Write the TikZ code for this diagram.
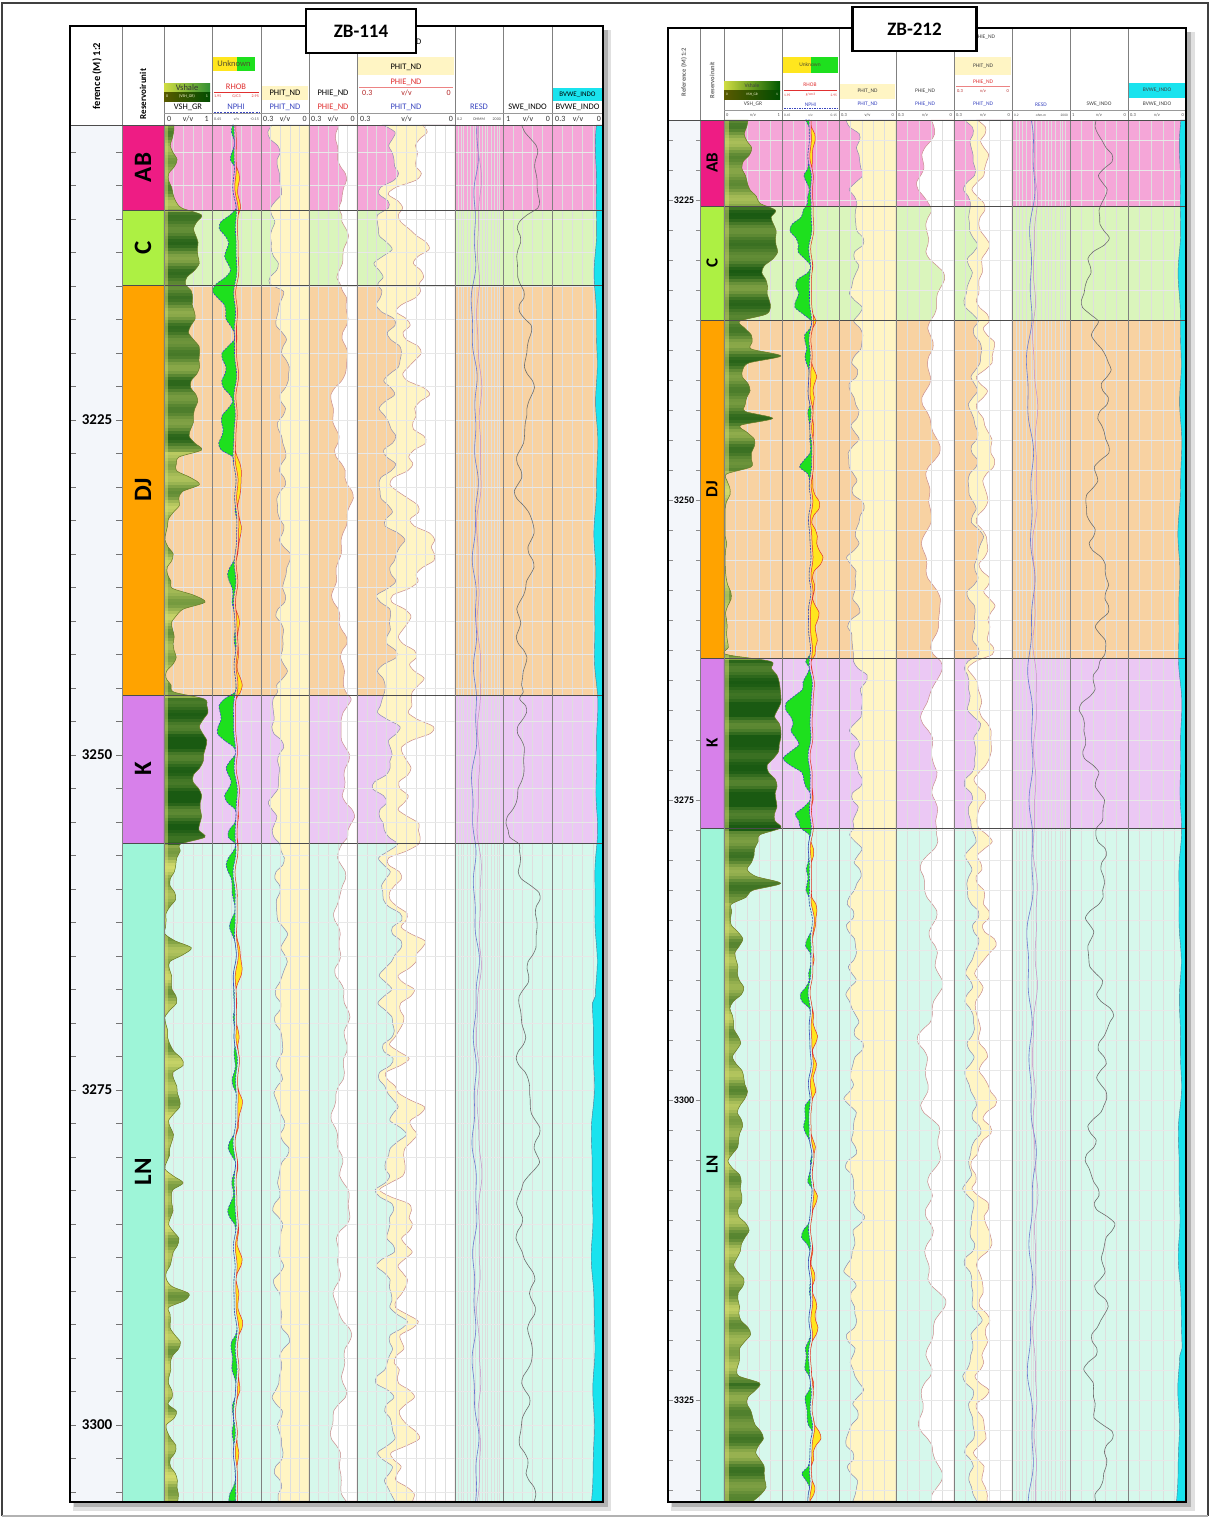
\documentclass[tikz,border=0pt]{standalone}
\usepackage{fontspec}
\setmainfont{Carlito}
\definecolor{abS}{HTML}{EE1C84}
\definecolor{abP}{HTML}{F5A6D8}
\definecolor{cS}{HTML}{ADF043}
\definecolor{cP}{HTML}{DAF5BC}
\definecolor{djS}{HTML}{FFA300}
\definecolor{djP}{HTML}{F8D2A2}
\definecolor{kS}{HTML}{D780EA}
\definecolor{kP}{HTML}{EBC8F4}
\definecolor{lnS}{HTML}{9EF5D8}
\definecolor{lnP}{HTML}{D6F8EC}
\definecolor{cream}{HTML}{FFF5C4}
\definecolor{dbg}{HTML}{F3F6FA}
\definecolor{cyn}{HTML}{19E3EE}
\definecolor{grn}{HTML}{1EE01E}
\definecolor{ylw}{HTML}{FFE61E}
\definecolor{vshL}{HTML}{BCCD5E}
\definecolor{vshR}{HTML}{1D5A12}
\definecolor{vshD}{HTML}{1A5A12}
\definecolor{vshLt}{HTML}{D4DC6E}
\definecolor{vshline}{HTML}{6B7B2A}
\definecolor{phic}{HTML}{8C8CB4}
\definecolor{phiec}{HTML}{C88C8C}
\definecolor{rhoc}{HTML}{E03030}
\definecolor{nphc}{HTML}{3A46C0}
\definecolor{resc}{HTML}{6A7AD0}
\definecolor{swc}{HTML}{6E6E6E}
\newcommand\logfill[5]{\path[#1] (#2,#3) -- plot[smooth,variable=\t,domain=#3:#4,samples=200] ({#5},\t) -- (#2,#4) -- cycle;}
\newcommand\logband[5]{\path[#1] plot[smooth,variable=\t,domain=#2:#3,samples=200] ({#4},\t) -- plot[smooth,variable=\t,domain=#3:#2,samples=200] ({#5},\t) -- cycle;}
\newcommand\logline[4]{\draw[#1] plot[smooth,variable=\t,domain=#2:#3,samples=200] ({#4},\t);}
\newcommand\scalerow[8]{\node[#1,anchor=west] (#8a) at (#2,#4) {#5}; \node[#1] (#8b) at ({(#2+#3)/2},#4) {#6}; \node[#1,anchor=east] (#8c) at (#3,#4) {#7};}
\tikzset{
  declare function={
    na(\zz)=0.6*sin(10*mod(0.73*\zz,36))+0.35*sin(10*mod(1.37*\zz+4,36))+0.6*sin(10*mod(0.29*\zz+13,36))+0.3*sin(10*mod(0.17*\zz+5,36));
    nb(\zz)=0.6*sin(10*mod(0.51*\zz+2,36))+0.4*sin(10*mod(1.13*\zz+7,36))+0.5*sin(10*mod(0.23*\zz+21,36))+0.35*sin(10*mod(0.13*\zz+3,36));
    nc(\zz)=0.55*sin(10*mod(0.97*\zz+6,36))+0.35*sin(10*mod(1.51*\zz+1.5,36))+0.6*sin(10*mod(0.37*\zz+17,36))+0.4*sin(10*mod(0.19*\zz+8,36));
    bx(\zz)=min(1,max(-1,3*sin(10*mod(0.21*\zz+11,36))));
    sk(\zz)=max(0,8*sin(10*mod(0.31*\zz+3,36))-7);
    biasL(\zz)=0.2+0.6*(\zz>210)-1.0*(\zz>450)+1.1*(\zz>695)-0.9*(\zz>843);
    biasR(\zz)=0.2+0.7*(\zz>206)-0.7*(\zz>320)-1.0*(\zz>470)+1.8*(\zz>658)-1.1*(\zz>828)+0.1*(\zz>1420);
  },
  hn/.style={inner sep=0pt, font=\fontsize{8.5}{9}\selectfont},
  sc/.style={inner sep=0pt, font=\fontsize{8}{9}\selectfont, text=black!80},
  tn/.style={inner sep=0pt, font=\fontsize{4}{4.5}\selectfont, text=black!70},
  hnR/.style={inner sep=0pt, font=\fontsize{5.5}{6}\selectfont, text=black!75},
  scR/.style={inner sep=0pt, font=\fontsize{4.5}{5}\selectfont, text=black!70},
  tnR/.style={inner sep=0pt, font=\fontsize{3.5}{4}\selectfont, text=black!70},
  colsep/.style={draw=black!50, line width=0.6pt},
  zline/.style={draw=black!70, line width=0.9pt},
  gv/.style={draw=black!13, line width=0.35pt},
  gh/.style={draw=black!9, line width=0.35pt},
  pframe/.style={draw=black, line width=2.6pt},
  nphline/.style={draw=nphc, dash pattern=on 2pt off 1.2pt, line width=0.6pt},
  rholine/.style={draw=rhoc, line width=0.5pt},
  zlbl/.style={inner sep=0pt, rotate=90, font=\bfseries\fontsize{25}{25}\selectfont},
  zlblR/.style={inner sep=0pt, rotate=90, font=\bfseries\fontsize{17}{17}\selectfont},
  dlbl/.style={inner sep=1pt, fill=dbg, font=\bfseries\fontsize{15}{15}\selectfont},
  dlblR/.style={inner sep=0.5pt, fill=dbg, font=\bfseries\fontsize{10}{10}\selectfont},
  zbox/.style={draw=black, line width=2.6pt, fill=white, inner sep=0pt, font=\bfseries\fontsize{19}{19}\selectfont},
  vshbandsL/.style={draw=vshline, line width=0.5pt, fill=vshL, path picture={
    \foreach \i in {0,...,459}{
      \pgfmathsetmacro\yy{125+3*\i}
      \pgfmathtruncatemacro\dk{min(100,max(0,45+25*(\yy>210)-5*(\yy>285)-30*(\yy>450)+55*(\yy>695)-60*(\yy>843)+18*sin(10*mod(3.9*\i,36))+10*sin(10*mod(2.13*\i+4,36))))}
      \fill[vshD!\dk!vshLt] (160,\yy) rectangle (215,{\yy+3.4});}
    \fill[vshLt, opacity=0.5] (160,120) rectangle (168,1505);}},
  vshbandsR/.style={draw=vshline, line width=0.5pt, fill=vshL, path picture={
    \foreach \i in {0,...,461}{
      \pgfmathsetmacro\yy{120+3*\i}
      \pgfmathtruncatemacro\dk{min(100,max(0,50+25*(\yy>206)-10*(\yy>320)-35*(\yy>470)+62*(\yy>658)-32*(\yy>828)-20*(\yy>900)+20*(\yy>1380)+18*sin(10*mod(3.7*\i+2,36))+10*sin(10*mod(2.23*\i+9,36))))}
      \fill[vshD!\dk!vshLt] (720,\yy) rectangle (785,{\yy+3.4});}
    \fill[vshLt, opacity=0.5] (720,115) rectangle (729,1505);}},
}
\begin{document}
\begin{tikzpicture}[x=1pt,y=-1pt]
\useasboundingbox (0,0) rectangle (1210,1519);
\fill[white] (0,0) rectangle (1210,1519);
\draw[black!75, line width=2pt] (2,1516) -- (2,3) -- (1208,3) -- (1208,1516);
\draw[black!30, line width=2pt] (2,1516) -- (1208,1516);

%%%%%%%%%%%%%%%% LEFT PANEL ZB-114 %%%%%%%%%%%%%%%%
\fill[black!12] (73,30) rectangle (611,1511);
\fill[black!30] (74,30) rectangle (608,1507);
\fill[white] (70,26) rectangle (603,1502);
\fill[dbg] (70,125) rectangle (122,1502);
\foreach \za/\zb/\zc/\zd in {125/210/abS/abP, 210/285/cS/cP, 285/695/djS/djP, 695/843/kS/kP, 843/1502/lnS/lnP}{
  \fill[fill=\zc] (122,\za) rectangle (164,\zb);
  \fill[fill=\zd] (164,\za) rectangle (603,\zb);}
% porosity fills
\logfill{fill=cream, draw=phic, line width=0.5pt}{309}{125}{1501}{261+48*min(0.95,max(0.04,0.3-0.05*(\t>210)+0.2*(\t>285)-0.15*(\t>695)+0.1*(\t>843)+0.11*nc(\t)))}
\logfill{fill=white, draw=phiec, line width=0.5pt}{357}{125}{1501}{309+48*min(0.98,max(0.15,0.62+0.15*(\t>210)-0.1*(\t>285)+0.1*(\t>695)-0.1*(\t>843)+0.1*nb(1.1*\t+30)+0.08*bx(\t)))}
\logfill{fill=cream, draw=phic, line width=0.5pt}{455}{125}{1501}{357+98*min(0.95,max(0.03,0.3-0.05*(\t>210)+0.08*(\t>285)-0.05*(\t>695)+0.05*(\t>843)+0.1*nc(\t+17)))}
\logfill{fill=white, draw=phiec, line width=0.5pt}{455}{125}{1501}{357+98*min(0.99,max(0.05,0.3-0.05*(\t>210)+0.08*(\t>285)-0.05*(\t>695)+0.05*(\t>843)+0.1*nc(\t+17)+max(0.03,0.25+0.05*(\t>210)-0.05*(\t>285)-0.1*(\t>843)+0.09*na(0.9*\t)+0.05*bx(1.2*\t))))}
% grids
\foreach \ga/\gw/\gn in {164/48/5, 212/49/5, 261/48/5, 309/48/5, 357/98/10, 503/49/5, 552/51/5}{
  \pgfmathtruncatemacro\gm{\gn-1}
  \foreach \k in {1,...,\gm}{\draw[gv] ({\ga+\gw*\k/\gn},125) -- ({\ga+\gw*\k/\gn},1502);}}
\foreach \f in {0.075,0.12,0.175,0.25,0.325,0.37,0.425,0.5,0.575,0.62,0.675,0.75,0.825,0.87,0.925}{
  \draw[gv] ({455+48*\f},125) -- ({455+48*\f},1502);}
\foreach \i in {0,...,40}{\draw[gh] (164,{152+33.5*\i}) -- (603,{152+33.5*\i});}
% shale, crossover and water fills
\logfill{vshbandsL}{164}{125}{1501}{164+48*min(0.97,max(0.02,0.24+0.36*(\t>210)+0.05*(\t>285)-0.47*(\t>450)+0.62*(\t>695)-0.65*(\t>843)+0.13*na(\t)+0.55*sk(\t)*((\t>450)-(\t>695)+0.6*(\t>843))))}
\logband{fill=grn, nphline}{125}{1501}{235+1.5*nc(0.7*\t+3)-min(22,(7+3*(\t>210)-5*(\t>450)+5*(\t>695)-5*(\t>843))*max(0,nb(\t)+biasL(\t)))}{235+1.5*nc(0.7*\t+3)}
\logband{fill=ylw, rholine}{125}{1501}{237+1.5*nc(0.7*\t+3)+min(18,(3-1*(\t>210)+1*(\t>450)-1*(\t>695)+2*(\t>843))*max(0,0-nb(\t)-biasL(\t)))}{237+1.5*nc(0.7*\t+3)}
\logfill{fill=cyn, draw=cyan!55!black, line width=0.4pt}{603}{125}{1501}{596-1.5*na(0.4*\t)-3*(\t>1000)}
% curve lines
\logline{resc, line width=0.6pt}{125}{1501}{475+2.5*nb(0.6*\t)}
\logline{violet!45, line width=0.5pt}{125}{1501}{479+2*na(0.5*\t+20)}
\logline{swc, line width=0.6pt}{125}{1501}{503+49*min(0.97,max(0.03,0.5-0.05*(\t>210)-0.15*(\t>695)+0.2*(\t>843)+0.1*nc(0.8*\t+30)+0.12*bx(0.9*\t+7)))}
% zone lines and separators
\foreach \zy in {210,285,695,843}{\draw[zline] (122,\zy) -- (603,\zy);}
\foreach \cx in {122,164,212,261,309,357,455,503,552}{\draw[colsep] (\cx,26) -- (\cx,1502);}
\draw[black!40, line width=0.5pt] (164,113) -- (603,113);
\draw[black!70, line width=0.8pt] (70,125) -- (603,125);
% zone labels
\node[zlbl] (LzAB) at (143,167.5) {AB};
\node[zlbl] (LzC) at (143,247.5) {C};
\node[zlbl] (LzDJ) at (143,490) {DJ};
\node[zlbl] (LzK) at (143,769) {K};
\node[zlbl] (LzLN) at (143,1171.5) {LN};
% header
\node[rotate=90, inner sep=0pt, font=\bfseries\fontsize{10.5}{11}\selectfont] (Lref) at (97,76) {ference (M) 1:2};
\node[rotate=90, inner sep=0pt, font=\bfseries\fontsize{9}{10}\selectfont] (Lres) at (143,94) {Reservoirunit};
\fill[ylw] (213,57) rectangle (237,71);
\fill[grn] (237,57) rectangle (255,71);
\node[hn, text=black!55!olive] (Lunk) at (234,64) {Unknown};
\shade[left color=vshL!70!yellow, right color=green!45!black!80] (164,83) rectangle (210,92);
\node[hn, text=black!80] (Lvsh) at (187,87.5) {Vshale};
\shade[left color=olive!70!black, right color=green!30!black] (164,92) rectangle (210,101);
\scalerow{tn,text=white!85!yellow}{166}{208}{96.5}{0}{(VSH\_GR)}{1}{Lv}
\node[hn, text=rhoc] (Lrhob) at (236,87) {RHOB};
\draw[rhoc, line width=0.6pt] (214,92) -- (259,92);
\scalerow{tn,text=rhoc}{214}{259}{96.5}{1.95}{G/C3}{2.95}{Lr}
\fill[cream] (262,86) rectangle (308,100);
\node[hn] (Lphit0) at (285,93) {PHIT\_ND};
\node[hn] (Lphie0) at (333,93) {PHIE\_ND};
\node[hn] (Lphie00) at (406,42) {PHIE\_ND};
\fill[cream] (358,57) rectangle (454,75);
\node[hn] (Lphit00) at (406,67) {PHIT\_ND};
\node[hn, text=rhoc] (Lphie01) at (406,82) {PHIE\_ND};
\draw[rhoc!60, line width=0.5pt] (359,87) -- (453,87);
\scalerow{sc,text=rhoc!80!black}{362}{451}{93}{0.3}{v/v}{0}{Lpe}
\fill[cyn] (553,88) rectangle (602,101);
\node[hn, font=\fontsize{7}{8}\selectfont] (Lbv0) at (577.5,94.5) {BVWE\_INDO};
\node[hn] (LnVSH) at (188,107) {VSH\_GR};
\node[hn, text=nphc] (LnNPHI) at (236,107) {NPHI};
\draw[nphc, dash pattern=on 2pt off 1.2pt, line width=0.6pt] (214,112) -- (259,112);
\node[hn, text=nphc] (LnPHIT) at (285,107) {PHIT\_ND};
\node[hn, text=rhoc] (LnPHIE) at (333,107) {PHIE\_ND};
\node[hn, text=nphc] (LnPHIT2) at (406,107) {PHIT\_ND};
\node[hn, text=nphc] (LnRESD) at (479,107) {RESD};
\node[hn] (LnSWE) at (527.5,107) {SWE\_INDO};
\node[hn] (LnBV) at (577.5,107) {BVWE\_INDO};
\scalerow{sc}{167}{209}{119}{0}{v/v}{1}{Ls1}
\scalerow{tn}{214}{259}{119}{0.45}{v/v}{-0.15}{Ls2}
\scalerow{sc}{263}{307}{119}{0.3}{v/v}{0}{Ls3}
\scalerow{sc}{311}{355}{119}{0.3}{v/v}{0}{Ls4}
\scalerow{sc}{360}{453}{119}{0.3}{v/v}{0}{Ls5}
\scalerow{tn}{457}{501}{119}{0.2}{OHMM}{2000}{Ls6}
\scalerow{sc}{506}{550}{119}{1}{v/v}{0}{Ls7}
\scalerow{sc}{555}{601}{119}{0.3}{v/v}{0}{Ls8}
% depth ticks
\foreach \i in {0,...,40}{\draw[black!55, line width=0.5pt] (71,{152+33.5*\i}) -- (76,{152+33.5*\i}) (116,{152+33.5*\i}) -- (122,{152+33.5*\i});}
\node[dlbl] (L3225) at (97,420) {3225};
\node[dlbl] (L3250) at (97,755) {3250};
\node[dlbl] (L3275) at (97,1090) {3275};
\node[dlbl] (L3300) at (97,1425) {3300};
\draw[pframe] (70,26) rectangle (603,1502);
\node[zbox, minimum width=110pt, minimum height=44pt] (zb114) at (361,31) {ZB-114};

%%%%%%%%%%%%%%%% RIGHT PANEL ZB-212 %%%%%%%%%%%%%%%%
\fill[black!12] (671,32) rectangle (1195,1511);
\fill[black!30] (672,32) rectangle (1191,1507);
\fill[white] (668,28) rectangle (1186,1502);
\fill[dbg] (668,120) rectangle (700,1502);
\foreach \za/\zb/\zc/\zd in {120/206/abS/abP, 206/320/cS/cP, 320/658/djS/djP, 658/828/kS/kP, 828/1502/lnS/lnP}{
  \fill[fill=\zc] (700,\za) rectangle (724,\zb);
  \fill[fill=\zd] (724,\za) rectangle (1186,\zb);}
\logfill{fill=cream, draw=phic, line width=0.5pt}{896}{120}{1501}{839+57*min(0.95,max(0.04,0.28+0.05*(\t>206)-0.05*(\t>320)+0.05*(\t>658)-0.08*(\t>828)+0.11*nc(1.1*\t)))}
\logfill{fill=white, draw=phiec, line width=0.5pt}{954}{120}{1501}{896+58*min(0.98,max(0.12,0.55+0.05*(\t>206)+0.05*(\t>658)-0.05*(\t>828)+0.12*nb(0.9*\t+40)+0.08*bx(\t+30)))}
\logfill{fill=cream, draw=phic, line width=0.5pt}{1012}{120}{1501}{954+58*min(0.95,max(0.03,0.25+0.05*(\t>206)+0.05*(\t>320)-0.05*(\t>658)+0.1*nc(\t+20)))}
\logfill{fill=white, draw=phiec, line width=0.5pt}{1012}{120}{1501}{954+58*min(0.99,max(0.05,0.25+0.05*(\t>206)+0.05*(\t>320)-0.05*(\t>658)+0.1*nc(\t+20)+max(0.03,0.2+0.08*na(\t+5)+0.05*bx(1.1*\t))))}
\foreach \ga/\gw/\gn in {724/58/5, 782/57/5, 839/57/5, 896/58/5, 954/58/5, 1070/58/5, 1128/58/5}{
  \pgfmathtruncatemacro\gm{\gn-1}
  \foreach \k in {1,...,\gm}{\draw[gv] ({\ga+\gw*\k/\gn},120) -- ({\ga+\gw*\k/\gn},1502);}}
\foreach \f in {0.075,0.12,0.175,0.25,0.325,0.37,0.425,0.5,0.575,0.62,0.675,0.75,0.825,0.87,0.925}{
  \draw[gv] ({1012+58*\f},120) -- ({1012+58*\f},1502);}
\foreach \i in {0,...,45}{\draw[gh] (724,{140+30*\i}) -- (1186,{140+30*\i});}
\logfill{vshbandsR}{724}{120}{1501}{724+58*min(0.98,max(0.02,0.45+0.35*(\t>206)-0.4*(\t>320)-0.36*(\t>470)+0.89*(\t>658)-0.5*(\t>828)-0.2*(\t>900)+0.05*(\t>1100)+0.3*(\t>1380)+(0.12-0.06*(\t>470)+0.06*(\t>658))*na(\t+11)+0.7*sk(2*\t)*((\t>320)-(\t>470)+(\t>828)-(\t>900))))}
\logband{fill=grn, nphline}{120}{1501}{810+1.5*nc(0.8*\t+9)-min(25,(7+3*(\t>206)-4*(\t>320)+6*(\t>658)-6*(\t>828)+4*(\t>1420))*max(0,nb(1.2*\t+15)+biasR(\t)))}{810+1.5*nc(0.8*\t+9)}
\logband{fill=ylw, rholine}{120}{1501}{812+1.5*nc(0.8*\t+9)+min(22,(3-1*(\t>206)+3*(\t>320)-3*(\t>658)+2*(\t>828)+3*(\t>1420))*max(0,0-nb(1.2*\t+15)-biasR(\t)))}{812+1.5*nc(0.8*\t+9)}
\logfill{fill=cyn, draw=cyan!55!black, line width=0.4pt}{1186}{120}{1501}{1180-1.5*na(0.4*\t)-2*(\t>1350)}
\logline{resc, line width=0.6pt}{120}{1501}{1031+3*nb(0.5*\t)}
\logline{violet!45, line width=0.5pt}{120}{1501}{1035+2*na(0.5*\t+10)}
\logline{swc, line width=0.6pt}{120}{1501}{1070+58*min(0.97,max(0.03,0.5-0.05*(\t>206)+0.05*(\t>320)-0.1*(\t>658)+0.1*(\t>828)+0.12*nc(0.9*\t+50)+0.1*bx(0.8*\t+3)))}
\foreach \zy in {206,320,658,828}{\draw[zline] (700,\zy) -- (1186,\zy);}
\foreach \cx in {700,724,782,839,896,954,1012,1070,1128}{\draw[colsep] (\cx,28) -- (\cx,1502);}
\draw[black!40, line width=0.5pt] (724,110) -- (1186,110);
\draw[black!70, line width=0.8pt] (668,120) -- (1186,120);
\node[zlblR] (RzAB) at (712,163) {AB};
\node[zlblR] (RzC) at (712,263) {C};
\node[zlblR] (RzDJ) at (712,489) {DJ};
\node[zlblR] (RzK) at (712,743) {K};
\node[zlblR] (RzLN) at (712,1164) {LN};
\node[rotate=90, inner sep=0pt, font=\bfseries\fontsize{6.5}{7}\selectfont, text=black!60] (Rref) at (684,72) {Reference (M) 1:2};
\node[rotate=90, inner sep=0pt, font=\bfseries\fontsize{6.5}{7}\selectfont, text=black!60] (Rres) at (712,80) {Reservoirunit};
\fill[ylw] (783,57) rectangle (811,73);
\fill[grn] (811,57) rectangle (838,73);
\node[hnR, text=black!55!olive] (Runk) at (810,65) {Unknown};
\shade[left color=vshL!70!yellow, right color=green!35!black] (724,81) rectangle (780,90);
\node[hnR] (Rvsh) at (752,85.5) {Vshale};
\shade[left color=olive!70!black, right color=green!30!black] (724,90) rectangle (780,99);
\scalerow{tnR,text=white!85!yellow}{726}{778}{94.5}{0}{VSH\_GR}{1}{Rv}
\node[hnR, text=rhoc] (Rrhob) at (810,85) {RHOB};
\draw[rhoc, line width=0.5pt] (784,90) -- (837,90);
\scalerow{tnR,text=rhoc}{784}{837}{95}{1.95}{g/cm3}{2.95}{Rr}
\fill[cream] (840,84) rectangle (895,99);
\node[hnR] (Rphit0) at (867.5,91.5) {PHIT\_ND};
\node[hnR] (Rphie0) at (925,91) {PHIE\_ND};
\node[hnR] (Rphie00) at (985,37) {PHIE\_ND};
\fill[cream] (955,57) rectangle (1011,75);
\node[hnR] (Rphit00) at (983,66) {PHIT\_ND};
\node[hnR, text=rhoc] (Rphie01) at (983,82) {PHIE\_ND};
\draw[rhoc!60, line width=0.4pt] (956,86) -- (1010,86);
\scalerow{scR,text=rhoc!80!black}{957}{1009}{91}{0.3}{v/v}{0}{Rpe}
\fill[cyn] (1129,83) rectangle (1185,98);
\node[hnR] (Rbv0) at (1157,90.5) {BVWE\_INDO};
\node[hnR] (RnVSH) at (753,104.5) {VSH\_GR};
\node[hnR, text=nphc] (RnNPHI) at (810.5,104.5) {NPHI};
\draw[nphc, dash pattern=on 1.5pt off 1pt, line width=0.5pt] (784,108.5) -- (837,108.5);
\node[hnR, text=nphc] (RnPHIT) at (867.5,104.5) {PHIT\_ND};
\node[hnR, text=nphc] (RnPHIE) at (925,104.5) {PHIE\_ND};
\node[hnR, text=nphc] (RnPHIT2) at (983,104.5) {PHIT\_ND};
\node[hnR, text=nphc] (RnRESD) at (1041,104.5) {RESD};
\node[hnR] (RnSWE) at (1099,104.5) {SWE\_INDO};
\node[hnR] (RnBV) at (1157,104.5) {BVWE\_INDO};
\scalerow{scR}{726}{780}{115}{0}{v/v}{1}{Rs1}
\scalerow{tnR}{784}{837}{115}{0.45}{v/v}{0.15}{Rs2}
\scalerow{scR}{841}{894}{115}{0.3}{v/v}{0}{Rs3}
\scalerow{scR}{898}{952}{115}{0.3}{v/v}{0}{Rs4}
\scalerow{scR}{956}{1010}{115}{0.3}{v/v}{0}{Rs5}
\scalerow{tnR}{1014}{1068}{115}{0.2}{ohm.m}{2000}{Rs6}
\scalerow{scR}{1072}{1126}{115}{1}{v/v}{0}{Rs7}
\scalerow{scR}{1130}{1184}{115}{0.3}{v/v}{0}{Rs8}
\foreach \i in {0,...,45}{\draw[black!45, line width=0.4pt] (669,{140+30*\i}) -- (673,{140+30*\i}) (696,{140+30*\i}) -- (700,{140+30*\i});}
\node[dlblR] (R3225) at (684,200) {3225};
\node[dlblR] (R3250) at (684,500) {3250};
\node[dlblR] (R3275) at (684,800) {3275};
\node[dlblR] (R3300) at (684,1100) {3300};
\node[dlblR] (R3325) at (684,1400) {3325};
\draw[pframe] (668,28) rectangle (1186,1502);
\node[zbox, minimum width=124pt, minimum height=44pt] (zb212) at (914.5,29) {ZB-212};
\end{tikzpicture}
\end{document}
